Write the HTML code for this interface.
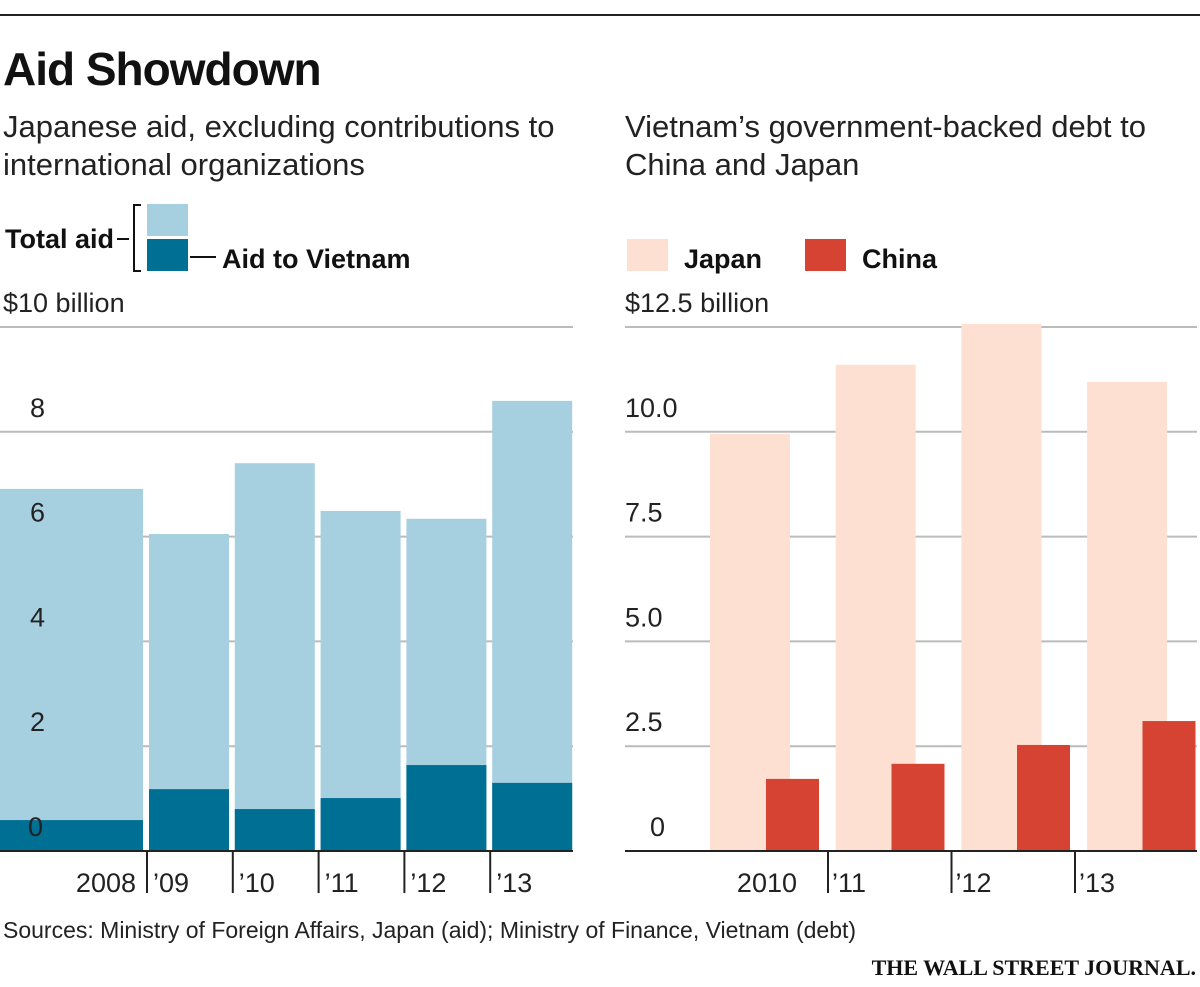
<!DOCTYPE html>
<html><head><meta charset="utf-8"><style>
html,body{margin:0;padding:0;background:#fff;}
svg{display:block;font-family:"Liberation Sans Narrow","Liberation Sans",sans-serif;}
</style></head><body>
<svg width="1200" height="987" viewBox="0 0 1200 987">
<line x1="0" y1="15" x2="1200" y2="15" stroke="#222" stroke-width="2"/>
<text x="3" y="85" font-size="46" font-weight="bold" fill="#111" font-family="Liberation Sans" letter-spacing="-1">Aid Showdown</text>
<text x="3" y="137" font-size="31" fill="#222"><tspan x="3">Japanese aid, excluding contributions to</tspan><tspan x="3" dy="38">international organizations</tspan></text>
<text x="625" y="137" font-size="31" fill="#222"><tspan x="625">Vietnam’s government-backed debt to</tspan><tspan x="625" dy="38">China and Japan</tspan></text>
<g>
<text x="5" y="248" font-size="27" font-weight="bold" fill="#111">Total aid</text>
<line x1="117" y1="239" x2="129" y2="239" stroke="#111" stroke-width="2"/>
<path d="M141 205 H134 V271 H141" fill="none" stroke="#111" stroke-width="2"/>
<rect x="147" y="204" width="41" height="32" fill="#a6cfe0"/>
<rect x="147" y="239" width="41" height="32" fill="#006f94"/>
<line x1="190" y1="257" x2="216" y2="257" stroke="#111" stroke-width="2"/>
<text x="222" y="268" font-size="27" font-weight="bold" fill="#111">Aid to Vietnam</text>
</g>
<g>
<rect x="627" y="239" width="41" height="32" fill="#fde0d2"/>
<text x="684" y="268" font-size="27" font-weight="bold" fill="#111">Japan</text>
<rect x="805" y="239" width="41" height="32" fill="#d64332"/>
<text x="862" y="268" font-size="27" font-weight="bold" fill="#111">China</text>
</g>
<g id="left"></g>
<g id="right"></g>
<text x="3" y="938" font-size="23" fill="#222">Sources: Ministry of Foreign Affairs, Japan (aid); Ministry of Finance, Vietnam (debt)</text>
<text x="1196" y="975" font-size="22" font-weight="bold" fill="#111" text-anchor="end" font-family="Liberation Serif">THE WALL STREET JOURNAL.</text>
</svg>
<script>
const NS='http://www.w3.org/2000/svg';
const leftYears=['2008','’09','’10','’11','’12','’13'];
const totalAid=[6.91,6.05,7.40,6.49,6.34,8.59];
const vietnamAid=[0.59,1.18,0.80,1.01,1.64,1.30];
const leftTicks=[0,2,4,6,8,10];
const leftTickLabels=['0','2','4','6','8','$10 billion'];
const rightYears=['2010','’11','’12','’13'];
const japanDebt=[9.95,11.6,12.57,11.19];
const chinaDebt=[1.72,2.08,2.53,3.1];
const rightTicks=[0,2.5,5,7.5,10,12.5];
const rightTickLabels=['0','2.5','5.0','7.5','10.0','$12.5 billion'];
function mk(p,tag,a){const e=document.createElementNS(NS,tag);for(const k in a)e.setAttribute(k,a[k]);p.appendChild(e);return e;}
const y0=851,yTop=327;
// left
const L=document.getElementById('left');
const ly=v=>y0-(v/10)*(y0-yTop);
leftTicks.forEach((t)=>{
 const g=mk(L,'line',{x1:0,x2:573,y1:ly(t),y2:ly(t),stroke:'#bbb','stroke-width':2});
 
 
});
leftYears.forEach((yr,i)=>{
 const x0=i==0?0:149+(i-1)*85.8, x1=i==0?143:x0+80;
 const a=mk(L,'rect',{x:x0,y:ly(totalAid[i]),width:x1-x0,height:ly(0)-ly(totalAid[i]),fill:'#a6cfe0'});
 
 
 const b=mk(L,'rect',{x:x0,y:ly(vietnamAid[i]),width:x1-x0,height:ly(0)-ly(vietnamAid[i]),fill:'#006f94'});
 
 
 if(i>0){const s=mk(L,'line',{x1:x0-2,x2:x0-2,y1:851,y2:893,stroke:'#222','stroke-width':2});
  
  }
 const t=mk(L,'text',{x:i==0?136:x0+4,y:892,'font-size':27,fill:'#222','text-anchor':i==0?'end':'start'});
 t.textContent=yr;
 
 
});
leftTicks.forEach((t,i)=>{
 const tx=mk(L,'text',{x:i==5?3:(t==0?28:30),y:ly(t)-15,'font-size':27,fill:'#222'});
 tx.textContent=leftTickLabels[i];
 
 
});
const la=mk(L,'line',{x1:0,x2:573,y1:851,y2:851,stroke:'#222','stroke-width':2});


// right
const R=document.getElementById('right');
const ry=v=>y0-(v/12.5)*(y0-yTop);
rightTicks.forEach((t)=>{
 const g=mk(R,'line',{x1:625,x2:1197,y1:ry(t),y2:ry(t),stroke:'#bbb','stroke-width':2});
 
 
});
rightYears.forEach((yr,i)=>{
 const xj=710+i*125.7, xc=766+i*125.5;
 const a=mk(R,'rect',{x:xj,y:ry(japanDebt[i]),width:80,height:ry(0)-ry(japanDebt[i]),fill:'#fde0d2'});
 
 
 const b=mk(R,'rect',{x:xc,y:ry(chinaDebt[i]),width:53,height:ry(0)-ry(chinaDebt[i]),fill:'#d64332'});
 
 
 const tickX=828+(i-1)*123.5;
 if(i>0){const s=mk(R,'line',{x1:tickX,x2:tickX,y1:851,y2:893,stroke:'#222','stroke-width':2});
  
  }
 const t=mk(R,'text',{x:i==0?797:tickX+4,y:892,'font-size':27,fill:'#222','text-anchor':i==0?'end':'start'});
 t.textContent=yr;
 
 
});
rightTicks.forEach((t,i)=>{
 const tx=mk(R,'text',{x:t==0?650:625,y:ry(t)-15,'font-size':27,fill:'#222'});
 tx.textContent=rightTickLabels[i];
 
 
});
const ra=mk(R,'line',{x1:625,x2:1197,y1:851,y2:851,stroke:'#222','stroke-width':2});


</script>
</body></html>
